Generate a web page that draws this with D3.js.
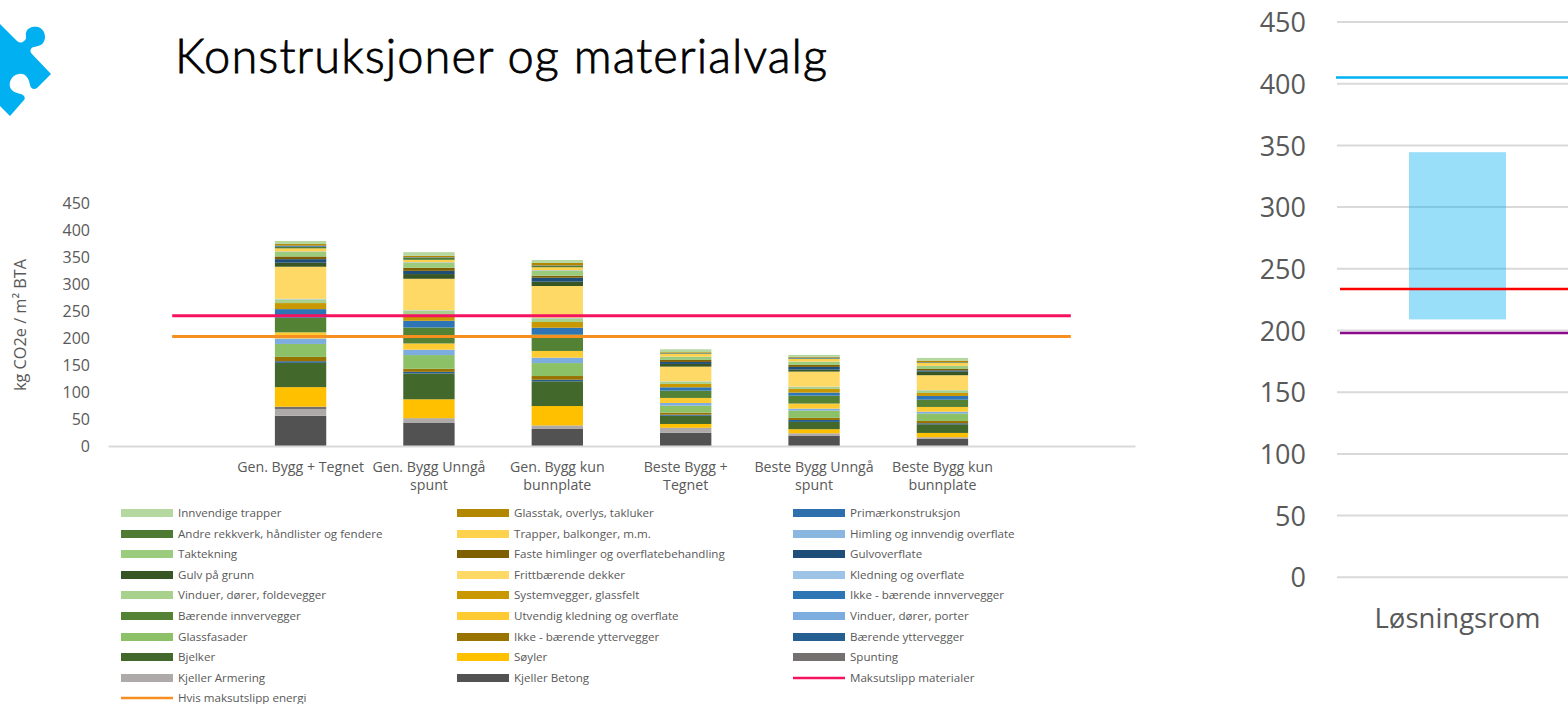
<!DOCTYPE html>
<html><head><meta charset="utf-8">
<script src="https://cdnjs.cloudflare.com/ajax/libs/d3/7.8.5/d3.min.js"></script>
<style>
html,body{margin:0;padding:0;background:#fff;overflow:hidden}
svg{display:block}
text{font-family:"Open Sans",sans-serif;fill:#595959}
</style></head><body>
<svg id="c" width="1568" height="704"></svg>
<script>
const titleText = "Konstruksjoner og materialvalg";
const categories = ["Gen. Bygg + Tegnet","Gen. Bygg Unngå|spunt","Gen. Bygg kun|bunnplate","Beste Bygg +|Tegnet","Beste Bygg Unngå|spunt","Beste Bygg kun|bunnplate"];
const yTicks = [0,50,100,150,200,250,300,350,400,450];

// stacked series, bottom to top
const kjellerBetong   = [56,42.6,31.5,24.7,18.5,13];
const kjellerArmering = [12,8.4,6,8.6,4.9,3];
const spunting        = [4.8,0.5,0.5,0.5,0.2,0.2];
const soyler          = [36.2,35,36,7,7.5,8];
const bjelker         = [45,47.9,45.8,15.3,13.5,16];
const baerendeYtter   = [3,3,3,2,3.6,1.9];
const ikkeBaerYtter   = [8,5.6,6.8,3.7,3.9,4.3];
const glassfasader    = [24,25.4,24,12.9,13.5,13.7];
const vindPorter      = [10,10,10,5,3.6,3.5];
const utvKledning     = [11.5,11.5,12.4,9.3,9.4,8.7];
const baerendeInnv    = [27,29.5,30.8,13.5,14.7,13.5];
const ikkeBaerInnv    = [16,12.5,12.2,6.2,5.6,6.9];
const systemvegger    = [11.2,11,10.6,6.2,6.8,5.5];
const vindFolde       = [6.8,7.5,6.8,4.3,3.8,4.9];
const kledning        = [1,1,1,0.6,0.5,0.4];
const frittbaerende   = [59.5,58.3,58.9,27.2,27.8,27.6];
const gulvGrunn       = [7.5,8.7,8,5,3.7,6.6];
const gulvoverflate   = [6.5,6,7.4,3.7,5,2.4];
const fasteHimlinger  = [5,5.6,3.7,3.7,3.7,2.6];
const taktekning      = [8.3,9.3,9.2,5.5,5.6,5.4];
const himling         = [1,1,1,0.5,0.5,0.5];
const trapper         = [5.7,4.5,5.4,5.1,4.9,5.2];
const andreRekkverk   = [3,3.6,2.3,1,1,1];
const primaer         = [2,1,1,0.5,1.5,0.5];
const glasstak        = [3,2.8,4.7,1.6,1.5,2.8];
const innvTrapper     = [5.6,6.8,5.4,5.5,3.5,5];
const maksMaterialer = 241;
const maksEnergi = 203;

const seriesNames = ["Kjeller Betong","Kjeller Armering","Spunting","Søyler","Bjelker","Bærende yttervegger","Ikke - bærende yttervegger","Glassfasader","Vinduer, dører, porter","Utvendig kledning og overflate","Bærende innvervegger","Ikke - bærende innvervegger","Systemvegger, glassfelt","Vinduer, dører, foldevegger","Kledning og overflate","Frittbærende dekker","Gulv på grunn","Gulvoverflate","Faste himlinger og overflatebehandling","Taktekning","Himling og innvendig overflate","Trapper, balkonger, m.m.","Andre rekkverk, håndlister og fendere","Primærkonstruksjon","Glasstak, overlys, takluker","Innvendige trapper"];
const seriesValues = [kjellerBetong,kjellerArmering,spunting,soyler,bjelker,baerendeYtter,ikkeBaerYtter,glassfasader,vindPorter,utvKledning,baerendeInnv,ikkeBaerInnv,systemvegger,vindFolde,kledning,frittbaerende,gulvGrunn,gulvoverflate,fasteHimlinger,taktekning,himling,trapper,andreRekkverk,primaer,glasstak,innvTrapper];
const seriesColors = ["#525252","#AEAAAA","#757070","#FFC000","#43682B","#255E91","#997300","#8CC168","#7DACDF","#FFCB33","#548235","#2E75B6","#C99700","#A9D18E","#9DC3E6","#FFD966","#375623","#1F4E79","#7F6000","#9BCB7C","#8AB7E0","#FFD24D","#4E7A33","#2E6FAE","#B38600","#B5D8A0"];

// right panel
const rightCategory = ["Løsningsrom"];
const rightLow = 209;
const rightHigh = 344.5;
const rightTop = 405;
const rightMid = 233.6;
const rightBottom = 198;

const svg = d3.select("#c");

// puzzle ornament
svg.append("path").attr("fill","#00B0F0")
  .attr("d","M0,24 L17,41 Q21,44 24,41 C28,38 25,35 26,33 C27,27 34,26 38,27 C45,29 47,38 43,43 C41,46 37,46 34,47 C31,47 29,51 32,54 L51,74 L37,88 C34,90 31,89 30,85 C29,78 25,73 19,74 C10,75 8,85 11,89 C14,94 22,93 24,96 C25,98 25,99 24,100 L10,116 L0,106 Z");

svg.append("text").text(titleText).attr("x",175).attr("y",73)
  .style("font-family","Lato, sans-serif").style("font-weight","300").style("font-size","47px")
  .style("fill","#000").style("stroke","#000").style("stroke-width","0.8px")
  .attr("textLength",652).attr("lengthAdjust","spacing");

// LEFT CHART
const slots = ["_a",...categories,"_b"];
const x = d3.scaleBand().domain(slots).range([108,1135]).paddingInner(0.6).paddingOuter(0.3);
const y = d3.scaleLinear().domain([0,450]).range([446,203]);
const cx = d => x(d)+x.bandwidth()/2;

const rows = categories.map((c,i)=>{const r={cat:c};seriesNames.forEach((n,k)=>r[n]=seriesValues[k][i]);return r;});
const stacked = d3.stack().keys(seriesNames)(rows);
svg.append("g").selectAll("g").data(stacked).join("g")
  .attr("fill",(d,i)=>seriesColors[i])
  .selectAll("rect").data(d=>d).join("rect")
  .attr("x",d=>x(d.data.cat)).attr("width",x.bandwidth())
  .attr("y",d=>y(d[1])).attr("height",d=>y(d[0])-y(d[1]));

const yAxis = svg.append("g").attr("transform","translate(90,0)")
  .call(d3.axisLeft(y).tickValues(yTicks).tickSize(0).tickPadding(0));
yAxis.select(".domain").remove();
yAxis.selectAll("text").style("font-size","16px").style("fill","#595959");

const xAxis = svg.append("g").attr("transform","translate(0,446)")
  .call(d3.axisBottom(x).tickValues(categories).tickSize(0).tickFormat(""));
xAxis.select(".domain").attr("stroke","#D9D9D9").attr("stroke-width",2);
xAxis.selectAll(".tick").each(function(c){
  const t=d3.select(this).select("text").attr("y",null).attr("dy",null).attr("text-anchor","middle").style("font-size","14.2px").style("fill","#595959");
  c.split("|").forEach((l,i)=>t.append("tspan").attr("x",0).attr("y",26+i*18).text(l));
});

svg.append("text").text("kg CO2e / m² BTA")
  .attr("transform","translate(26,325) rotate(-90)").attr("text-anchor","middle")
  .style("font-size","16.3px");

[[maksMaterialer,"#F5125F"],[maksEnergi,"#F68E20"]].forEach(([v,col])=>{
  svg.append("path").attr("fill","none").attr("stroke",col).attr("stroke-width",3)
    .attr("d",d3.line().x(d=>cx(d)).y(()=>y(v))([slots[0],slots[slots.length-1]]));
});

// LEGEND (bottom-up stack order, laid out right to left)
const legendCols = [121,457,793];
const legendRows = [513,534,554,575,595,616,637,657,678,698];
const ordered = [
  {name:"Hvis maksutslipp energi",color:"#F68E20",type:"line",col:0,row:9},
  {name:"Maksutslipp materialer",color:"#F5125F",type:"line",col:2,row:8}
];
seriesNames.forEach((n,i)=>{
  const idx=i+1; // Kjeller Betong sits in the middle column of row 8
  ordered.push({name:n,color:seriesColors[i],type:"bar",col:(idx%3===0)?2:(idx%3===1?1:0),row:8-Math.floor((i===0?0:(i+1))/3)});
});
const lg = svg.append("g").selectAll("g").data(ordered).join("g")
  .attr("transform",d=>`translate(${legendCols[d.col]},${legendRows[d.row]})`);
lg.filter(d=>d.type==="bar").append("rect").attr("x",0).attr("y",-4).attr("width",52).attr("height",8).attr("fill",d=>d.color);
lg.filter(d=>d.type==="line").append("line").attr("x1",0).attr("x2",52).attr("stroke",d=>d.color).attr("stroke-width",2.6);
lg.append("text").attr("x",57).attr("y",4).style("font-size","11.6px").text(d=>d.name);

// RIGHT CHART
const rx = d3.scaleBand().domain(rightCategory).range([1337,1578]).padding(0.426);
const ry = d3.scaleLinear().domain([0,450]).range([577.3,22]);
svg.append("g").selectAll("line").data(yTicks).join("line")
  .attr("x1",1337).attr("x2",1568).attr("y1",d=>ry(d)).attr("y2",d=>ry(d))
  .attr("stroke","#D9D9D9").attr("stroke-width",2);
const rAxis = svg.append("g").attr("transform","translate(1306,1)")
  .call(d3.axisLeft(ry).tickValues(yTicks).tickSize(0).tickPadding(0));
rAxis.select(".domain").remove();
rAxis.selectAll("text").style("font-size","27px").style("fill","#595959");
svg.append("rect").attr("x",rx(rightCategory[0])).attr("width",rx.bandwidth())
  .attr("y",ry(rightHigh)).attr("height",ry(rightLow)-ry(rightHigh))
  .attr("fill","#00B0F0").attr("fill-opacity",0.4);
[[rightTop,"#00B0F0",1336],[rightMid,"#FF0000",1340],[rightBottom,"#8B0A8B",1340]].forEach(([v,col,x0])=>{
  svg.append("line").attr("x1",x0).attr("x2",1568).attr("y1",ry(v)).attr("y2",ry(v)).attr("stroke",col).attr("stroke-width",2.6);
});
svg.append("text").text(rightCategory[0]).attr("x",rx(rightCategory[0])+rx.bandwidth()/2).attr("y",628)
  .attr("text-anchor","middle").style("font-size","27.5px");
</script>
</body></html>
